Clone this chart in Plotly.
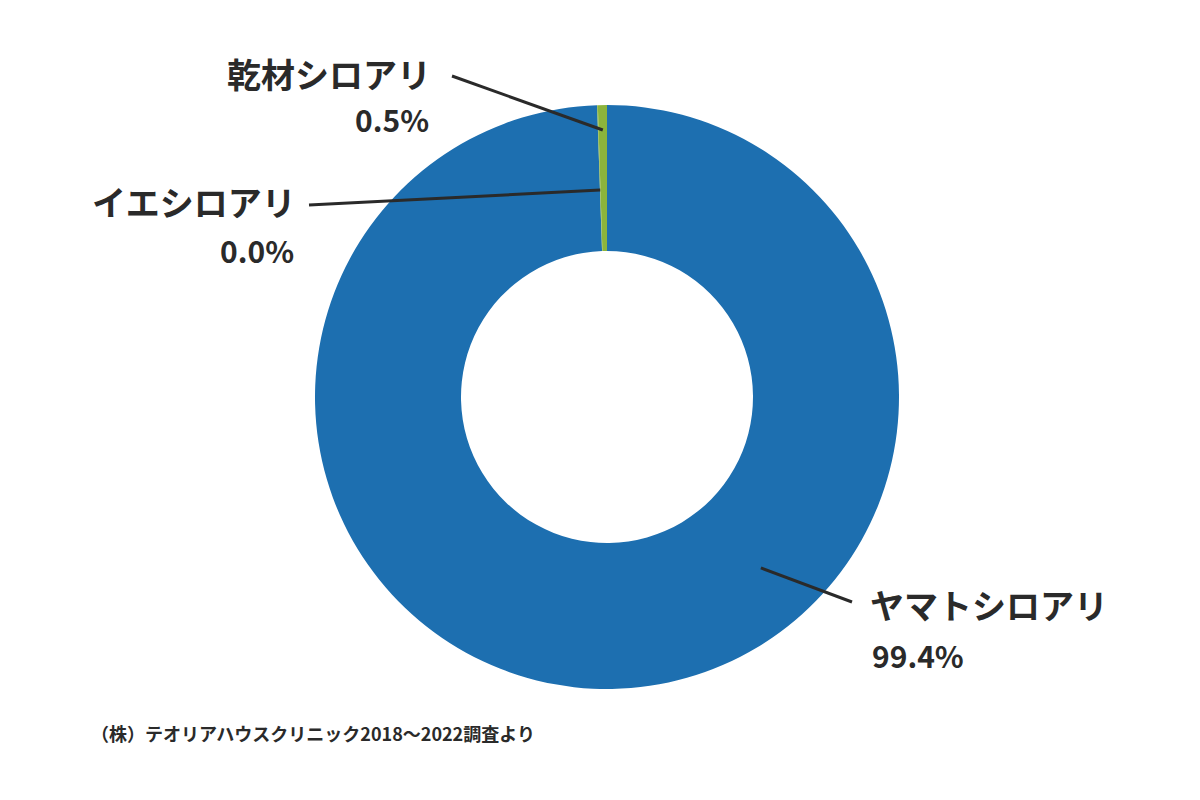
import math
import plotly.graph_objects as go

W, H = 1200, 800

labels = ["ヤマトシロアリ", "イエシロアリ", "乾材シロアリ"]
values = [99.4, 0.04, 0.5]
colors = ["#1d6fb0", "#8cb43c", "#8cb43c"]
source_note = "（株）テオリアハウスクリニック2018～2022調査より"

# layout (pixels)
CX, CY, R = 607, 397, 292
HOLE = 0.5
FONT = "Noto Sans CJK JP"
TXT = "#2a2a2a"

# label placement: name anchor, percent anchor (px), alignment, leader-line outer end (px), anchor angle/radius
label_layout = {
    "乾材シロアリ": dict(tx=433, ty=73, vy=119, align="right", lx=452, ly=76, ang=None, rad=267),
    "イエシロアリ": dict(tx=298, ty=202, vy=250, align="right", lx=309, ly=205, ang=None, rad=207),
    "ヤマトシロアリ": dict(tx=868, ty=604, vy=655, align="left", lx=852, ly=602, ang=138, rad=230),
}


def px(x):
    return x / W


def py(y):
    return 1 - y / H


fig = go.Figure(go.Pie(
    labels=labels, values=values, hole=HOLE, sort=False, direction="clockwise",
    marker=dict(colors=colors, line=dict(width=0)), textinfo="none", hoverinfo="label+percent",
    domain=dict(x=[px(CX - R), px(CX + R)], y=[py(CY + R), py(CY - R)]),
    showlegend=False,
))

total = sum(values)
cum = 0
annotations = []
shapes = []
for lab, v in zip(labels, values):
    start = cum / total * 360
    cum += v
    end = cum / total * 360
    mid = (start + end) / 2
    L = label_layout[lab]
    ang = L["ang"] if L["ang"] is not None else mid
    ax = CX + L["rad"] * math.sin(math.radians(ang))
    ay = CY - L["rad"] * math.cos(math.radians(ang))
    shapes.append(dict(type="line", xref="paper", yref="paper",
                       x0=px(L["lx"]), y0=py(L["ly"]), x1=px(ax), y1=py(ay),
                       line=dict(color=TXT, width=3)))
    xa = L["align"]
    annotations.append(dict(
        x=px(L["tx"]), y=py(L["ty"]), xref="paper", yref="paper",
        text=f"<b>{lab}</b>", showarrow=False, xanchor=xa, yanchor="middle",
        font=dict(family=FONT, size=34, color=TXT)))
    annotations.append(dict(
        x=px(L["tx"] - (2 if xa == "right" else -2)), y=py(L["vy"]), xref="paper", yref="paper",
        text=f"<b>{v:.1f}%</b>", showarrow=False, xanchor=xa, yanchor="middle",
        font=dict(family=FONT, size=30, color=TXT)))

annotations.append(dict(x=px(89), y=py(733), xref="paper", yref="paper", text=f"<b>{source_note}</b>",
                        showarrow=False, xanchor="left", yanchor="middle",
                        font=dict(family=FONT, size=18, color=TXT)))

fig.update_layout(width=W, height=H, margin=dict(l=0, r=0, t=0, b=0),
                  paper_bgcolor="white", plot_bgcolor="white",
                  annotations=annotations, shapes=shapes)

fig.write_html("out.html")
